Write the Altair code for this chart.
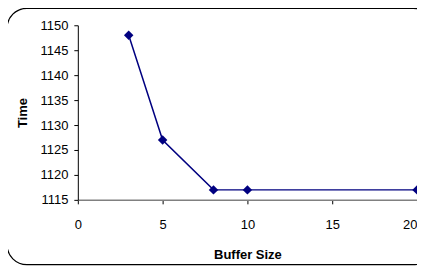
import altair as alt
import pandas as pd

buffer_size = [3, 5, 8, 10, 20]
time_vals = [1148, 1127, 1117, 1117, 1117]
x_ticks = [0, 5, 10, 15, 20]
y_ticks = [1115, 1120, 1125, 1130, 1135, 1140, 1145, 1150]

df = pd.DataFrame({"Buffer Size": buffer_size, "Time": time_vals})

FONT = "Liberation Sans"

frame = alt.Chart(pd.DataFrame({"a": [0]})).mark_rect(
    fill="transparent", stroke="#000000", strokeWidth=1.2, cornerRadius=20, clip=False
).encode(
    x=alt.value(-71), x2=alt.value(356), y=alt.value(-17), y2=alt.value(240)
)

base = alt.Chart(df).encode(
    x=alt.X("Buffer Size:Q",
            scale=alt.Scale(domain=[0, 20], nice=False, zero=False),
            axis=alt.Axis(values=x_ticks, title="Buffer Size", grid=False, format="d",
                          tickSize=4, labelPadding=15, titlePadding=17,
                          labelAlign=alt.expr("datum.value === 20 ? 'right' : 'center'"),
                          domainColor="#808080", domainWidth=1.5, tickColor="#000000")),
    y=alt.Y("Time:Q",
            scale=alt.Scale(domain=[1115, 1150], nice=False, zero=False),
            axis=alt.Axis(values=y_ticks, title="Time", grid=False, format="d",
                          tickSize=4, labelPadding=6, titlePadding=10,
                          domainColor="#000000", tickColor="#000000")),
)

line = base.mark_line(color="#000080", strokeWidth=1.5)
pts = base.mark_point(shape="diamond", filled=True, size=90, color="#000080", opacity=1)

chart = alt.layer(frame, line, pts).properties(
    width=340, height=175,
    autosize=alt.AutoSizeParams(type="none"),
    padding={"left": 70, "top": 17, "right": 0, "bottom": 70},
).configure_view(stroke=None).configure_axis(
    labelFont=FONT, titleFont=FONT, labelFontSize=13, titleFontSize=13,
    labelColor="#000000", titleColor="#000000", titleFontWeight="bold",
    labelFlush=False
)

chart.save("out.html", embed_options={"renderer": "svg", "actions": False})
